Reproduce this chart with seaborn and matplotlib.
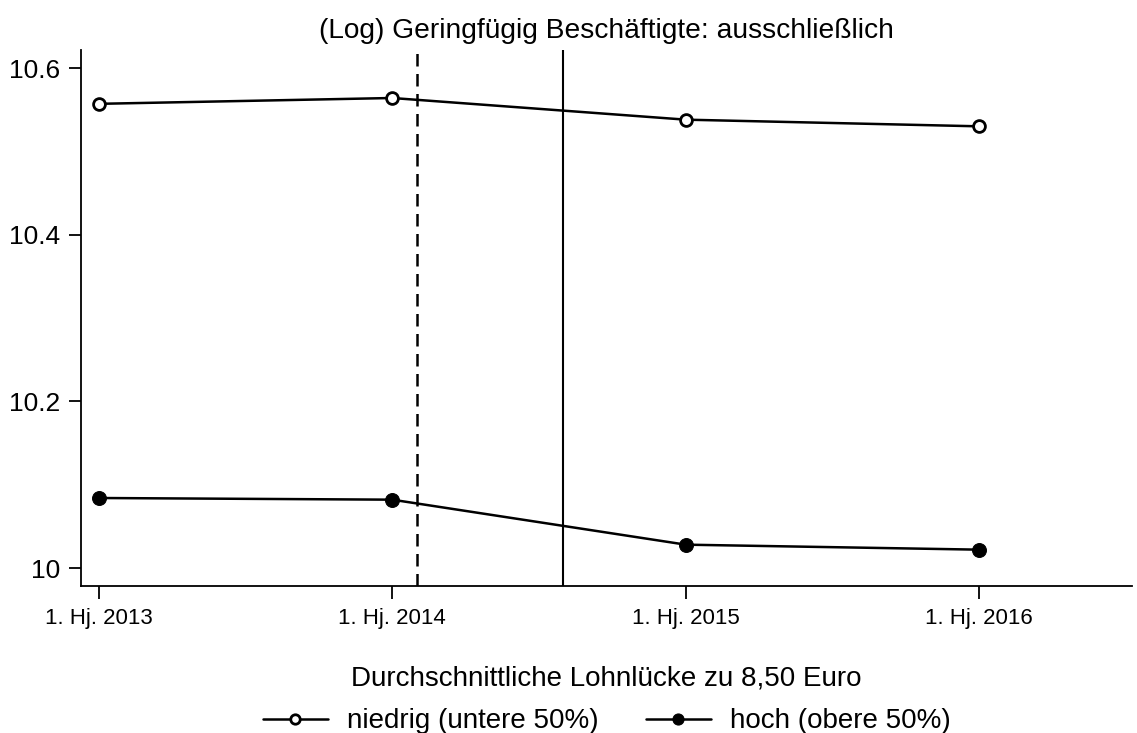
"""Recreation of the Geringfuegig Beschaeftigte line chart."""

import matplotlib

matplotlib.use("Agg")
import matplotlib.pyplot as plt
import numpy as np
import pandas as pd
import seaborn as sns

periods = ["1. Hj. 2013", "1. Hj. 2014", "1. Hj. 2015", "1. Hj. 2016"]
niedrig = [10.557, 10.564, 10.538, 10.530]
hoch = [10.084, 10.082, 10.028, 10.022]
labels = ["niedrig (untere 50%)", "hoch (obere 50%)"]
y_ticks = [10, 10.2, 10.4, 10.6]
y_tick_labels = ["10", "10.2", "10.4", "10.6"]
event_dashed = 1.083
event_solid = 1.583

sns.set_theme(style="ticks", rc={
    "text.color": "black", "axes.labelcolor": "black",
    "xtick.color": "black", "ytick.color": "black", "axes.edgecolor": "black",
})
plt.rcParams["font.family"] = ["Liberation Sans", "DejaVu Sans"]

df = pd.DataFrame({
    "pos": np.tile(np.arange(len(periods)), 2),
    "value": niedrig + hoch,
    "group": [labels[0]] * len(periods) + [labels[1]] * len(periods),
})

fig = plt.figure(figsize=(11.37, 7.33), dpi=100)
ax = fig.add_axes([81 / 1137, 1 - 586 / 733, (1132 - 81) / 1137, (586 - 50) / 733])

ax.axvline(event_dashed, color="black", lw=1.8, ls=(0, (5, 3)))
ax.axvline(event_solid, color="black", lw=1.5)

sns.lineplot(data=df[df["group"] == labels[0]], x="pos", y="value", ax=ax,
             color="black", lw=1.8, marker="o", markersize=8.5,
             markerfacecolor="white", markeredgecolor="black", markeredgewidth=2,
             label=labels[0])
sns.lineplot(data=df[df["group"] == labels[1]], x="pos", y="value", ax=ax,
             color="black", lw=1.8, marker="o", markersize=10,
             markerfacecolor="black", markeredgecolor="black",
             label=labels[1])

ax.set_xlim(-0.060, 3.52)
ax.set_ylim(9.9784, 10.6216)
ax.set_xticks(range(len(periods)))
ax.set_xticklabels(periods, fontsize=16)
ax.set_yticks(y_ticks)
ax.set_yticklabels(y_tick_labels, fontsize=19)
ax.tick_params(axis="both", direction="out", length=9, width=1.3, pad=6)
ax.tick_params(axis="x", pad=7)
ax.set_xlabel("")
ax.set_ylabel("")
for side in ["top", "right"]:
    ax.spines[side].set_visible(False)
for side in ["left", "bottom"]:
    ax.spines[side].set_linewidth(1.3)

ax.set_title("(Log) Geringfügig Beschäftigte: ausschließlich", fontsize=20.25, pad=9)

ax.legend(title="Durchschnittliche Lohnlücke zu 8,50 Euro", loc="upper center",
          bbox_to_anchor=(0.5, -0.102), ncol=2, frameon=False, fontsize=20,
          title_fontsize=20, handlelength=2.35, columnspacing=1.7,
          markerscale=0.8, handletextpad=0.68, labelspacing=0.6)

fig.savefig("out.png", dpi=100)
